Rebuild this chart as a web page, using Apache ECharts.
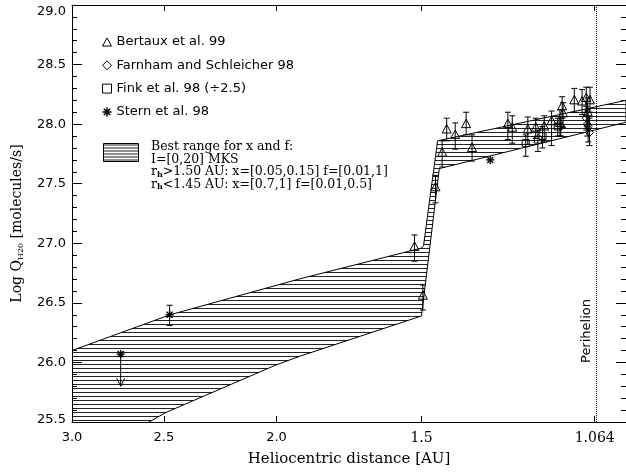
<!DOCTYPE html>
<html><head><meta charset="utf-8">
<script src="https://cdn.jsdelivr.net/npm/echarts@6/dist/echarts.min.js"></script>
<style>html,body{margin:0;padding:0;background:#fff}#c{width:626px;height:472px}</style>
</head><body><div id="c"></div>
<script>
// ---------------- data ----------------
const xTickValues = [3.0, 2.5, 2.0, 1.5, 1.064];
const perihelion = 1.064;

// hatched band: upper edge (left->right), lower edge (right->left)
const bandUpperR = [3.0, 2.47, 1.912, 1.5, 1.494, 1.453, 1.0];
const bandUpperY = [26.10, 26.40, 26.70, 26.96, 26.98, 27.86, 28.20];
const bandLowerR = [1.0, 1.448, 1.5, 1.912, 2.0, 2.49, 2.575, 3.0];
const bandLowerY = [28.016, 27.627, 26.39, 26.05, 25.98, 25.58, 25.50, 25.12];

// Bertaux et al. 99 (triangles)
const bertauxR  = [1.521, 1.496, 1.459, 1.440, 1.427, 1.403, 1.373, 1.357, 1.264, 1.253, 1.215, 1.196, 1.176, 1.159, 1.140, 1.135, 1.133, 1.108, 1.091, 1.082, 1.074, 1.079];
const bertauxY  = [26.97, 26.56, 27.47, 27.76, 27.955, 27.91, 28.00, 27.80, 28.00, 27.97, 27.955, 27.97, 27.98, 28.025, 28.01, 28.15, 28.09, 28.20, 28.19, 28.22, 28.20, 28.10];
const bertauxLo = [26.85, 26.44, 27.34, 27.64, 27.86, 27.79, 27.91, 27.69, 27.87, 27.84, 27.83, 27.88, 27.85, 27.82, 27.90, 28.05, 27.97, 28.10, 28.08, 28.10, 28.10, 27.98];
const bertauxHi = [27.07, 26.65, 27.57, 27.86, 28.05, 28.01, 28.10, 27.91, 28.10, 28.07, 28.06, 28.05, 28.07, 28.11, 28.12, 28.23, 28.18, 28.30, 28.29, 28.31, 28.31, 28.22];

// Farnham and Schleicher 98 (diamonds)
const farnhamR  = [1.138, 1.082, 1.078, 1.075, 1.080];
const farnhamY  = [27.98, 28.05, 27.98, 27.93, 28.00];
const farnhamLo = [27.90, 27.95, 27.85, 27.82, 27.90];
const farnhamHi = [28.05, 28.15, 28.10, 28.05, 28.12];

// Fink et al. 98 (/2.5) (squares)
const finkR  = [1.220, 1.191, 1.180, 1.145];
const finkY  = [27.84, 27.87, 27.90, 27.98];
const finkLo = [27.73, 27.77, 27.80, 27.90];
const finkHi = [27.91, 27.95, 27.98, 28.05];

// Stern et al. 98 (stars)
const sternR  = [2.472, 1.309];
const sternY  = [26.40, 27.70];
const sternLo = [26.31, 27.70];
const sternHi = [26.48, 27.70];
// upper limit (arrow)
const sternLimR = [2.724];
const sternLimY = [26.07];
const sternLimTo = [25.80];

// ---------------- build ----------------
function zip4(a, b, c, d) { return a.map((v, i) => [v, b[i], c[i], d[i]]); }
const SANS = 'DejaVu Sans';
const SERIF = 'DejaVu Serif';
const HATCH_STEP = 4;

// hatch pattern for the legend box
const pat = document.createElement('canvas');
pat.width = 8; pat.height = 3;
(function () {
  const g = pat.getContext('2d');
  g.fillStyle = '#fff'; g.fillRect(0, 0, 8, 3);
  g.fillStyle = '#222'; g.fillRect(0, 1, 8, 1);
})();
const hatch = { image: pat, repeat: 'repeat' };

function marker(kind, c) {
  const x = c[0], y = c[1];
  const st = { fill: 'none', stroke: '#000', lineWidth: 1 };
  if (kind === 'tri') return { type: 'polygon', shape: { points: [[x, y - 5], [x + 4.5, y + 3.5], [x - 4.5, y + 3.5]] }, style: st };
  if (kind === 'dia') return { type: 'polygon', shape: { points: [[x, y - 4], [x + 4, y], [x, y + 4], [x - 4, y]] }, style: st };
  if (kind === 'sq') return { type: 'rect', shape: { x: x - 3.5, y: y - 3.5, width: 7, height: 7 }, style: st };
  const r = 4, d = 3;
  const s2 = { stroke: '#000', lineWidth: 1.4 };
  return { type: 'group', children: [
    { type: 'line', shape: { x1: x, y1: y - r, x2: x, y2: y + r }, style: s2 },
    { type: 'line', shape: { x1: x - r, y1: y, x2: x + r, y2: y }, style: s2 },
    { type: 'line', shape: { x1: x - d, y1: y - d, x2: x + d, y2: y + d }, style: s2 },
    { type: 'line', shape: { x1: x - d, y1: y + d, x2: x + d, y2: y - d }, style: s2 }
  ] };
}

function errRender(kind) {
  return function (params, api) {
    const x = api.value(0), y = api.value(1), lo = api.value(2), hi = api.value(3);
    const c = api.coord([x, y]);
    const ch = [];
    if (lo !== hi) {
      const pl = api.coord([x, lo]), ph = api.coord([x, hi]);
      const st = { stroke: '#000', lineWidth: 1 };
      ch.push({ type: 'line', shape: { x1: c[0], y1: pl[1], x2: c[0], y2: ph[1] }, style: st });
      ch.push({ type: 'line', shape: { x1: c[0] - 3, y1: pl[1], x2: c[0] + 3, y2: pl[1] }, style: st });
      ch.push({ type: 'line', shape: { x1: c[0] - 3, y1: ph[1], x2: c[0] + 3, y2: ph[1] }, style: st });
    }
    ch.push(marker(kind, c));
    return { type: 'group', children: ch };
  };
}

function limitRender(params, api) {
  const x = api.value(0), y = api.value(1), to = api.value(2);
  const c = api.coord([x, y]), e = api.coord([x, to]);
  const st = { stroke: '#000', lineWidth: 1 };
  return { type: 'group', children: [
    { type: 'line', shape: { x1: c[0], y1: c[1], x2: e[0], y2: e[1] }, style: st },
    { type: 'line', shape: { x1: e[0] - 4, y1: e[1] - 8, x2: e[0], y2: e[1] }, style: st },
    { type: 'line', shape: { x1: e[0] + 4, y1: e[1] - 8, x2: e[0], y2: e[1] }, style: st },
    marker('star', c)
  ] };
}

// band polygon + horizontal hatch lines derived from its outline
function bandRender(params, api) {
  if (params.dataIndex !== 0) return null;
  const pts = [];
  bandUpperR.forEach((r, i) => pts.push(api.coord([r, bandUpperY[i]])));
  bandLowerR.forEach((r, i) => pts.push(api.coord([r, bandLowerY[i]])));
  let ymin = Infinity, ymax = -Infinity;
  pts.forEach(p => { ymin = Math.min(ymin, p[1]); ymax = Math.max(ymax, p[1]); });
  const children = [];
  const n = pts.length;
  for (let yy = Math.ceil(ymin / HATCH_STEP) * HATCH_STEP + 0.5; yy < ymax; yy += HATCH_STEP) {
    const xs = [];
    for (let i = 0; i < n; i++) {
      const a = pts[i], b = pts[(i + 1) % n];
      if ((a[1] <= yy && b[1] > yy) || (b[1] <= yy && a[1] > yy)) {
        xs.push(a[0] + (yy - a[1]) * (b[0] - a[0]) / (b[1] - a[1]));
      }
    }
    xs.sort((p, q) => p - q);
    for (let k = 0; k + 1 < xs.length; k += 2) {
      children.push({ type: 'line', shape: { x1: xs[k], y1: yy, x2: xs[k + 1], y2: yy }, style: { stroke: '#222', lineWidth: 1 } });
    }
  }
  children.push({ type: 'polygon', shape: { points: pts }, style: { fill: 'none', stroke: '#000', lineWidth: 1 } });
  return { type: 'group', children: children };
}

const chart = echarts.init(document.getElementById('c'), null, { renderer: 'canvas' });

const xLabelFmt = v => {
  const s = Math.abs(v - 1.064) < 1e-6 ? '1.064' : v.toFixed(1);
  return v < 1.8 ? '{serif|' + s + '}' : '{sans|' + s + '}';
};

const yLabelFmt = v => {
  const s = v.toFixed(1);
  if (Math.abs(v - 29) < 1e-6) return '{top|' + s + '}';
  if (Math.abs(v - 25.5) < 1e-6) return '{bot|' + s + '}';
  return s;
};

const axisBase = {
  axisLine: { show: true, lineStyle: { color: '#000', width: 1 } },
  splitLine: { show: false }
};

const option = {
  animation: false,
  backgroundColor: '#fff',
  grid: { left: 72, right: -2, top: 5, bottom: 47 },
  xAxis: [
    Object.assign({
      type: 'log', logBase: 10, min: 1.0, max: 3.0, inverse: true, position: 'bottom',
      name: 'Heliocentric distance [AU]', nameLocation: 'middle', nameGap: 30,
      nameTextStyle: { fontFamily: SERIF, fontSize: 15, color: '#000' },
      axisTick: { show: true, inside: true, length: 6, customValues: xTickValues, lineStyle: { color: '#000' } },
      axisLabel: { show: true, customValues: xTickValues, formatter: xLabelFmt, margin: 9, color: '#000',
        rich: { sans: { fontFamily: SANS, fontSize: 13, color: '#000' }, serif: { fontFamily: SERIF, fontSize: 14, color: '#000' } } },
      minorTick: { show: false }
    }, axisBase),
    Object.assign({
      type: 'log', logBase: 10, min: 1.0, max: 3.0, inverse: true, position: 'top',
      axisTick: { show: true, inside: true, length: 6, customValues: xTickValues, lineStyle: { color: '#000' } },
      axisLabel: { show: false, customValues: xTickValues },
      minorTick: { show: false }
    }, axisBase)
  ],
  yAxis: [
    Object.assign({
      type: 'value', min: 25.5, max: 29.0, interval: 0.5, position: 'left',
      name: 'Log Q{s|H20} [molecules/s]', nameLocation: 'middle', nameGap: 47, nameRotate: 90,
      nameTextStyle: { fontFamily: SERIF, fontSize: 14, color: '#000', lineHeight: 16, padding: [0, 20, 0, 0],
        rich: { s: { fontFamily: SERIF, fontSize: 8, verticalAlign: 'bottom', lineHeight: 12, color: '#000' } } },
      axisTick: { show: true, inside: true, length: 10, lineStyle: { color: '#000' } },
      minorTick: { show: true, splitNumber: 5, length: 5, lineStyle: { color: '#000' } },
      axisLabel: { show: true, formatter: yLabelFmt, margin: 6, fontFamily: SANS, fontSize: 13, color: '#000',
        rich: { top: { fontFamily: SANS, fontSize: 13, color: '#000', padding: [14, 0, 0, 0] },
                bot: { fontFamily: SANS, fontSize: 13, color: '#000', padding: [0, 0, 4, 0] } } }
    }, axisBase),
    Object.assign({
      type: 'value', min: 25.5, max: 29.0, interval: 0.5, position: 'right',
      axisTick: { show: true, inside: true, length: 10, lineStyle: { color: '#000' } },
      minorTick: { show: true, splitNumber: 5, length: 5, lineStyle: { color: '#000' } },
      axisLabel: { show: false }
    }, axisBase)
  ],
  legend: {
    orient: 'vertical', left: 100, top: 35, padding: 0, itemWidth: 9, itemHeight: 9, itemGap: 9.3,
    selectedMode: false,
    textStyle: { fontFamily: SANS, fontSize: 13, color: '#000', lineHeight: 14 },
    data: [
      { name: 'Bertaux et al. 99', icon: 'path://M5,0 L10,9 L0,9 Z', itemStyle: { color: 'none', borderColor: '#000', borderWidth: 1 } },
      { name: 'Farnham and Schleicher 98', icon: 'path://M5,0 L10,5 L5,10 L0,5 Z', itemStyle: { color: 'none', borderColor: '#000', borderWidth: 1 } },
      { name: 'Fink et al. 98 (\u00f72.5)', icon: 'path://M0,0 L10,0 L10,10 L0,10 Z', itemStyle: { color: 'none', borderColor: '#000', borderWidth: 1 } },
      { name: 'Stern et al. 98', icon: 'path://M5,0 L5,10 M0,5 L10,5 M1.5,1.5 L8.5,8.5 M8.5,1.5 L1.5,8.5', itemStyle: { color: 'none', borderColor: '#000', borderWidth: 1.5 } }
    ]
  },
  graphic: [
    { type: 'rect', left: 103, top: 143, shape: { width: 35, height: 18 }, style: { fill: hatch, stroke: '#000', lineWidth: 1 } },
    { type: 'text', left: 151, top: 140,
      style: {
        text: 'Best range for x and f:\nI=[0,20] MKS\nr{s|h}>1.50 AU: x=[0.05,0.15] f=[0.01,1]\nr{s|h}<1.45 AU: x=[0.7,1] f=[0.01,0.5]',
        font: '12.5px "DejaVu Serif"', fill: '#000', lineHeight: 12.8,
        rich: { s: { fontFamily: SERIF, fontSize: 8, fontWeight: 'bold', verticalAlign: 'bottom', lineHeight: 10 } }
      } }
  ],
  series: [
    {
      type: 'custom', name: 'band', coordinateSystem: 'cartesian2d', clip: true, silent: true,
      renderItem: bandRender, data: [[bandUpperR[0], bandUpperY[0]]],
      markLine: {
        silent: true, symbol: 'none', animation: false,
        lineStyle: { color: '#000', type: 'dotted', width: 1 },
        label: { show: true, formatter: 'Perihelion', position: 'insideStartTop', distance: [59, 3],
          fontFamily: SANS, fontSize: 13, color: '#000' },
        data: [{ xAxis: perihelion }]
      }
    },
    { type: 'custom', name: 'Bertaux et al. 99', coordinateSystem: 'cartesian2d', clip: true,
      renderItem: errRender('tri'), data: zip4(bertauxR, bertauxY, bertauxLo, bertauxHi) },
    { type: 'custom', name: 'Farnham and Schleicher 98', coordinateSystem: 'cartesian2d', clip: true,
      renderItem: errRender('dia'), data: zip4(farnhamR, farnhamY, farnhamLo, farnhamHi) },
    { type: 'custom', name: 'Fink et al. 98 (\u00f72.5)', coordinateSystem: 'cartesian2d', clip: true,
      renderItem: errRender('sq'), data: zip4(finkR, finkY, finkLo, finkHi) },
    { type: 'custom', name: 'Stern et al. 98', coordinateSystem: 'cartesian2d', clip: true,
      renderItem: errRender('star'), data: zip4(sternR, sternY, sternLo, sternHi) },
    { type: 'custom', name: 'Stern et al. 98', coordinateSystem: 'cartesian2d', clip: true,
      renderItem: limitRender, data: sternLimR.map((r, i) => [r, sternLimY[i], sternLimTo[i]]) }
  ]
};
chart.setOption(option);
</script>
</body></html>
